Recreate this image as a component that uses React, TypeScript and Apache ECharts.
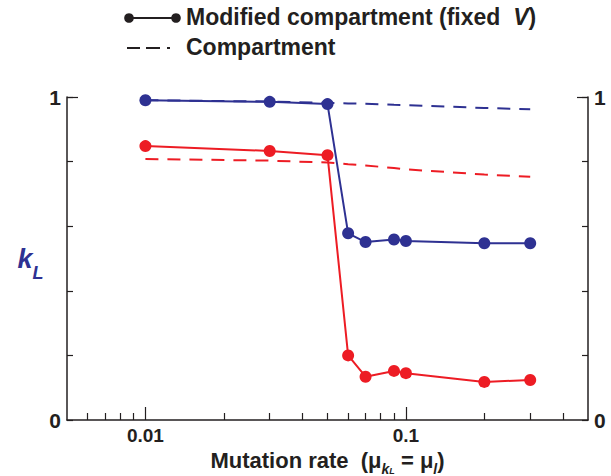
import React, { useEffect, useRef } from "react";
import * as echarts from "echarts";

const mutationRates = [0.01, 0.03, 0.05, 0.06, 0.07, 0.09, 0.1, 0.2, 0.3];
const blueModified = [0.99, 0.985, 0.978, 0.578, 0.551, 0.559, 0.554, 0.547, 0.547];
const redModified = [0.848, 0.833, 0.82, 0.2, 0.134, 0.152, 0.145, 0.118, 0.124];
const blueCompartment = [0.99, 0.986, 0.982, 0.98, 0.979, 0.976, 0.975, 0.966, 0.962];
const redCompartment = [0.808, 0.803, 0.797, 0.792, 0.788, 0.78, 0.776, 0.76, 0.753];
const majorTicks = [0.01, 0.1];
const minorTicks = [0.006, 0.007, 0.008, 0.009, 0.02, 0.03, 0.04, 0.05, 0.06, 0.07, 0.08, 0.09, 0.2, 0.3, 0.4];
const yLabelValues = [0, 1];

const BLUE = "#2E3192";
const RED = "#ED1C24";
const INK = "#231F20";
const FONT = "Liberation Sans, Arial, sans-serif";

const pairs = (ys: number[]) => mutationRates.map((x, i) => [x, ys[i]]);

export default function App() {
  const ref = useRef<HTMLDivElement>(null);
  useEffect(() => {
    document.body.style.margin = "0";
    const chart = echarts.init(ref.current!, null, { renderer: "svg" });
    const yBase = {
      type: "value",
      min: 0,
      max: 1,
      interval: 0.2,
      splitLine: { show: false },
      axisLine: { show: true, lineStyle: { color: INK, width: 1.5 } },
      axisTick: { inside: true, length: 6, lineStyle: { color: INK, width: 1.2 } },
      axisLabel: {
        customValues: yLabelValues,
        formatter: (v: number) => String(v),
        fontFamily: FONT,
        fontSize: 21,
        fontWeight: "bold",
        color: INK,
        margin: 6,
      },
    };
    const yTop = {
      type: "value",
      min: 0,
      max: 1,
      splitLine: { show: false },
      axisLine: { show: false },
      axisLabel: { show: false },
      axisTick: { inside: true, length: 11, customValues: [1], lineStyle: { color: INK, width: 1.2 } },
    };
    const solid = (data: number[], color: string) => ({
      type: "line",
      data: pairs(data),
      symbol: "circle",
      symbolSize: 12,
      showSymbol: true,
      lineStyle: { color, width: 2 },
      itemStyle: { color },
      z: 3,
    });
    const dashed = (data: number[], color: string) => ({
      type: "line",
      data: pairs(data),
      symbol: "none",
      lineStyle: { color, width: 2, type: [13, 9] },
      z: 2,
    });
    chart.setOption({
      animation: false,
      backgroundColor: "#ffffff",
      grid: { left: 67, right: 23, top: 97, bottom: 56, outerBoundsMode: "none", containLabel: false },
      xAxis: [
        {
          type: "log",
          logBase: 10,
          min: 0.005,
          max: 0.5,
          splitLine: { show: false },
          axisLine: { show: true, lineStyle: { color: INK, width: 1.5 } },
          axisTick: { inside: true, length: 13, customValues: majorTicks, lineStyle: { color: INK, width: 1.2 } },
          axisLabel: {
            customValues: majorTicks,
            formatter: (v: number) => String(v),
            fontFamily: FONT,
            fontSize: 19,
            fontWeight: "bold",
            color: INK,
            margin: 6,
          },
          name: "{n|Mutation rate  (μ}{s|k}{ss|L}{n| = μ}{s|l}{n|)}",
          nameLocation: "middle",
          nameGap: 20,
          nameTextStyle: {
            rich: {
              n: { fontFamily: FONT, fontSize: 22, fontWeight: "bold", color: INK, lineHeight: 26 },
              s: { fontFamily: FONT, fontSize: 14, color: INK, fontStyle: "italic", fontWeight: "bold", verticalAlign: "bottom", lineHeight: 14, padding: [0, 0, -2, 0] },
              ss: { fontFamily: FONT, fontSize: 9, color: INK, fontStyle: "italic", fontWeight: "bold", verticalAlign: "bottom", lineHeight: 10, padding: [0, 0, -2, 0] },
            },
          },
        },
        {
          type: "log",
          logBase: 10,
          min: 0.005,
          max: 0.5,
          gridIndex: 0,
          position: "bottom",
          splitLine: { show: false },
          axisLine: { show: false },
          axisLabel: { show: false },
          axisTick: { inside: true, length: 7, customValues: minorTicks, lineStyle: { color: INK, width: 1.2 } },
        },
      ],
      yAxis: [
        {
          ...yBase,
          position: "left",
          name: "{k|k}{l|L}",
          nameLocation: "middle",
          nameRotate: 0,
          nameGap: 19,
          nameTextStyle: {
            rich: {
              k: { fontFamily: FONT, fontSize: 27, fontStyle: "italic", fontWeight: "bold", color: BLUE, lineHeight: 30 },
              l: { fontFamily: FONT, fontSize: 18, fontStyle: "italic", fontWeight: "bold", color: BLUE, verticalAlign: "bottom", lineHeight: 18, padding: [0, 0, -8, 0] },
            },
          },
        },
        { ...yBase, position: "right" },
        { ...yTop, position: "left" },
        { ...yTop, position: "right" },
      ],
      graphic: [
        { type: "line", shape: { x1: 129, y1: 18, x2: 176, y2: 18 }, style: { stroke: INK, lineWidth: 2 } },
        { type: "circle", shape: { cx: 129, cy: 18, r: 4.8 }, style: { fill: INK } },
        { type: "circle", shape: { cx: 176, cy: 18, r: 4.8 }, style: { fill: INK } },
        {
          type: "text",
          x: 186,
          y: 17,
          style: {
            text: "{n|Modified compartment (fixed  }{i|V}{n|)}",
            verticalAlign: "middle",
            rich: {
              n: { fontFamily: FONT, fontSize: 23, fontWeight: "bold", fill: INK },
              i: { fontFamily: FONT, fontSize: 23, fontWeight: "bold", fontStyle: "italic", fill: INK },
            },
          },
        },
        { type: "line", shape: { x1: 127, y1: 48, x2: 172, y2: 48 }, style: { stroke: INK, lineWidth: 2, lineDash: [13, 6, 14, 7, 3, 20] } },
        {
          type: "text",
          x: 186,
          y: 47,
          style: { text: "Compartment", verticalAlign: "middle", fontFamily: FONT, fontSize: 23, fontWeight: "bold", fill: INK },
        },
      ],
      series: [
        dashed(blueCompartment, BLUE),
        dashed(redCompartment, RED),
        solid(blueModified, BLUE),
        solid(redModified, RED),
      ],
    });
    return () => chart.dispose();
  }, []);
  return <div ref={ref} style={{ width: 611, height: 476 }} />;
}
